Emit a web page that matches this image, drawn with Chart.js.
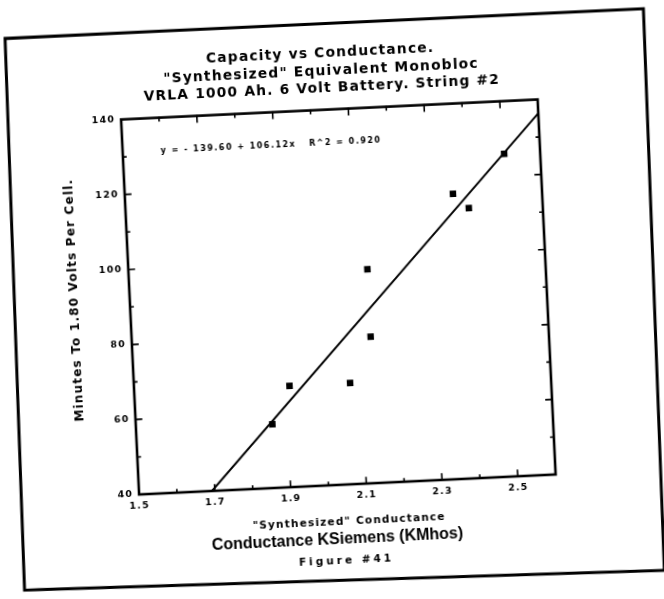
<!DOCTYPE html>
<html>
<head>
<meta charset="utf-8">
<script src="https://cdn.jsdelivr.net/npm/chart.js@4/dist/chart.umd.min.js"></script>
<style>
  html, body { margin: 0; padding: 0; background: #fff; overflow: hidden; }
  #page {
    position: absolute; left: 0; top: 0; width: 664px; height: 599px;
    transform: rotate(-2.75deg); transform-origin: 332px 300px;
  }
  canvas { display: block; }
</style>
</head>
<body>
<div id="page"><canvas id="c" width="664" height="599"></canvas></div>
<script>
// Measured string data: conductance (KSiemens) vs. minutes to 1.80 V per cell
const conductance = [1.86, 1.91, 2.07, 2.13, 2.13, 2.365, 2.405, 2.505];
const minutes     = [57, 67, 67, 97, 79, 116, 112, 126];

// Least-squares fit reported on the chart
const fitIntercept = -139.60;
const fitSlope = 106.12;
const fitRSquared = 0.920;

// Axis ranges and labelled ticks
const xRange = [1.5, 2.6];
const yRange = [40, 140];
const xTickLabels = ['1.5', '1.7', '1.9', '2.1', '2.3', '2.5'];
const yTickLabels = ['40', '60', '80', '100', '120', '140'];

// Text
const titleLines = ['Capacity vs Conductance.', '"Synthesized" Equivalent Monobloc', 'VRLA 1000 Ah. 6 Volt Battery. String #2'];
const xAxisTitle = '"Synthesized" Conductance';
const yAxisTitle = 'Minutes To 1.80 Volts Per Cell.';
const unitsLine = 'Conductance KSiemens (KMhos)';
const figureLine = 'Figure #41';

const HEAVY = '"DejaVu Sans", sans-serif';
const ARIAL = '"Liberation Sans", Arial, sans-serif';

// Fit line runs from where it enters the bottom edge to the right edge
const fitStartX = (yRange[0] - fitIntercept) / fitSlope;
const fitLine = [
  { x: fitStartX, y: yRange[0] },
  { x: xRange[1], y: fitIntercept + fitSlope * xRange[1] }
];
const points = conductance.map((x, i) => ({ x, y: minutes[i] }));

const equationText = 'y = - ' + Math.abs(fitIntercept).toFixed(2) + ' + ' + fitSlope.toFixed(2) +
  'x   R^2 = ' + fitRSquared.toFixed(3);

// Wide, typewriter-like spacing for all chart text
const spacedText = {
  id: 'spacedText',
  beforeDraw(chart) { chart.ctx.letterSpacing = '1.2px'; },
  afterDraw(chart) { chart.ctx.letterSpacing = '0px'; }
};

// Plot box, inward tick marks, axis/equation text, captions and page border
const decorations = {
  id: 'decorations',
  afterDraw(chart) {
    const { ctx, chartArea: a, scales } = chart;
    ctx.save();
    ctx.strokeStyle = '#000';
    ctx.lineCap = 'square';

    // inward ticks on all four sides
    ctx.lineWidth = 1.6;
    scales.x.ticks.forEach(t => {
      if (t.value <= xRange[0] + 1e-9 || t.value >= xRange[1] - 1e-9) return;
      const px = scales.x.getPixelForValue(t.value);
      const len = xTickLabels.includes(t.value.toFixed(1)) ? 6 : 3;
      ctx.beginPath();
      ctx.moveTo(px, a.bottom); ctx.lineTo(px, a.bottom - len);
      ctx.moveTo(px, a.top); ctx.lineTo(px, a.top + len);
      ctx.stroke();
    });
    scales.y.ticks.forEach(t => {
      if (t.value <= yRange[0] || t.value >= yRange[1]) return;
      const py = scales.y.getPixelForValue(t.value);
      const len = yTickLabels.includes(String(t.value)) ? 6 : 3;
      ctx.beginPath();
      ctx.moveTo(a.left, py); ctx.lineTo(a.left + len, py);
      ctx.moveTo(a.right, py); ctx.lineTo(a.right - len, py);
      ctx.stroke();
    });

    // plot box
    ctx.lineWidth = 2.6;
    ctx.lineCap = 'butt';
    ctx.strokeRect(a.left, a.top, a.right - a.left, a.bottom - a.top);

    ctx.fillStyle = '#000';

    // y-axis title, running bottom to top beside the tick labels
    ctx.save();
    ctx.font = 'bold 12px ' + HEAVY;
    ctx.letterSpacing = '1.2px';
    ctx.textAlign = 'center';
    ctx.textBaseline = 'middle';
    ctx.translate(75, (a.top + a.bottom) / 2 - 9.5);
    ctx.rotate(-Math.PI / 2);
    ctx.fillText(yAxisTitle, 0, 0);
    ctx.restore();

    // regression equation
    ctx.font = 'bold 8px ' + HEAVY;
    ctx.letterSpacing = '1.5px';
    ctx.textAlign = 'left';
    ctx.textBaseline = 'middle';
    ctx.fillText(equationText, a.left + 38, a.top + 33);

    // captions under the axis title
    ctx.textAlign = 'center';
    ctx.letterSpacing = '0px';
    ctx.font = 'bold 16px ' + ARIAL;
    ctx.fillText(unitsLine, 326, 540);
    ctx.font = 'bold 10.5px ' + HEAVY;
    ctx.letterSpacing = '3px';
    ctx.fillText(figureLine, 334, 561);

    // page border (the sheet is slightly out of square)
    ctx.letterSpacing = '0px';
    ctx.lineWidth = 3;
    ctx.lineJoin = 'miter';
    ctx.beginPath();
    ctx.moveTo(18, 23);
    ctx.lineTo(657, 24);
    ctx.lineTo(651, 586);
    ctx.lineTo(11, 575);
    ctx.closePath();
    ctx.stroke();
    ctx.restore();
  }
};

new Chart(document.getElementById('c'), {
  data: {
    datasets: [
      {
        type: 'line',
        data: fitLine,
        borderColor: '#000',
        borderWidth: 2,
        pointRadius: 0,
        fill: false,
        order: 2
      },
      {
        type: 'scatter',
        data: points,
        pointStyle: 'rect',
        pointRadius: 4.6,
        backgroundColor: '#000',
        borderColor: '#000',
        borderWidth: 0,
        order: 1
      }
    ]
  },
  options: {
    responsive: false,
    animation: false,
    devicePixelRatio: 1,
    layout: { padding: 0 },
    plugins: {
      legend: { display: false },
      tooltip: { enabled: false },
      title: {
        display: true,
        text: titleLines,
        color: '#000',
        font: { family: HEAVY, size: 13.8, weight: 'bold', lineHeight: 1.27 },
        padding: { top: 45, bottom: 12 }
      }
    },
    scales: {
      x: {
        type: 'linear',
        min: xRange[0],
        max: xRange[1],
        grid: { display: false, drawTicks: false },
        border: { display: false },
        afterFit: s => { s.height = 114; },
        ticks: {
          stepSize: 0.1,
          autoSkip: false,
          maxRotation: 0,
          padding: 6,
          color: '#000',
          font: { family: HEAVY, size: 9.5, weight: 'bold' },
          callback: v => {
            const s = Number(v).toFixed(1);
            return xTickLabels.includes(s) ? s : '';
          }
        },
        title: {
          display: true,
          text: xAxisTitle,
          color: '#000',
          font: { family: HEAVY, size: 10.5, weight: 'bold', lineHeight: 1.2 },
          padding: { top: 0, bottom: 70.7 }
        }
      },
      y: {
        type: 'linear',
        min: yRange[0],
        max: yRange[1],
        grid: { display: false, drawTicks: false },
        border: { display: false },
        afterFit: s => { s.width = 130; },
        ticks: {
          stepSize: 10,
          autoSkip: false,
          padding: 6,
          color: '#000',
          font: { family: HEAVY, size: 9.5, weight: 'bold' },
          callback: v => (yTickLabels.includes(String(v)) ? String(v) : '')
        },
        title: { display: false, text: yAxisTitle }
      },
      // empty right-hand margin so the title stays centred on the page
      margin: {
        type: 'linear',
        position: 'right',
        display: true,
        grid: { display: false, drawTicks: false },
        border: { display: false },
        ticks: { display: false },
        afterFit: s => { s.width = 117; }
      }
    }
  },
  plugins: [spacedText, decorations]
});
</script>
</body>
</html>
